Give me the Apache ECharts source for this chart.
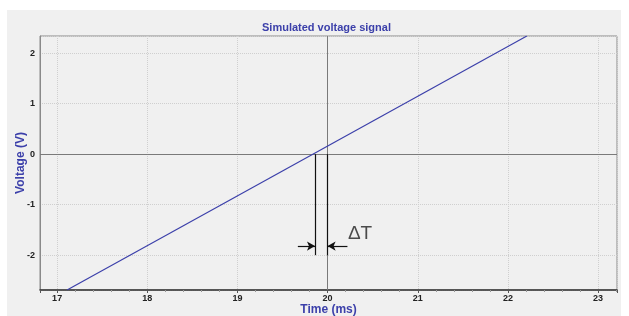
<!DOCTYPE html>
<html>
<head>
    <meta charset="utf-8">
    <title>Simulated voltage signal</title>
    <script src="https://cdn.jsdelivr.net/npm/echarts@6/dist/echarts.min.js"></script>
    <style>
        body { margin: 0; background: #fff; }
        #panel { position: absolute; left: 7px; top: 10px; width: 614px; height: 306px; background: #f0f0f0; }
        #main { position: absolute; left: 0; top: 0; width: 629px; height: 316px; }
    </style>
</head>
<body>
    <div id="panel"></div>
    <div id="main"></div>
    <script type="text/javascript">
        // signal: straight ramp across the window (ms, V)
        var signalTime = [17.11, 22.21];
        var signalVolt = [-2.69, 2.34];

        // delta T markers
        var crossTime = 19.86;
        var refTime = 20;
        var markerBottom = -2.0;
        var arrowLevel = -1.82;
        var arrowLeftStart = 19.67;
        var arrowRightStart = 20.22;
        var deltaLabelPos = [20.22, -1.58];

        var xMin = 16.81, xMax = 23.21;
        var yMin = -2.69, yMax = 2.34;

        var blue = '#3c40aa';
        var labelFont = { color: '#222', fontSize: 9, fontWeight: 'bold', fontFamily: 'Liberation Sans' };

        var signal = [];
        for (var i = 0; i < signalTime.length; i++) {
            signal.push([signalTime[i], signalVolt[i]]);
        }

        function intLabel(v) {
            return Math.abs(v - Math.round(v)) < 1e-6 ? String(Math.round(v)) : '';
        }

        var chart = echarts.init(document.getElementById('main'));
        var option = {
            animation: false,
            backgroundColor: 'transparent',
            title: {
                text: 'Simulated voltage signal',
                left: 257,
                top: 17,
                textStyle: { color: blue, fontSize: 11, fontWeight: 'bold', fontFamily: 'Liberation Sans' }
            },
            grid: {
                left: 40, right: 12, top: 36, bottom: 26,
                outerBoundsMode: 'none',
                containLabel: false,
                show: true, borderColor: '#8a8a8a', borderWidth: 1
            },
            xAxis: {
                type: 'value',
                min: xMin, max: xMax,
                splitNumber: 6,
                name: 'Time (ms)',
                nameLocation: 'middle',
                nameGap: 14,
                nameMoveOverlap: false,
                nameTextStyle: { color: blue, fontSize: 12, fontWeight: 'bold', fontFamily: 'Liberation Sans' },
                axisLine: { onZero: false, lineStyle: { color: '#333', width: 1.5 } },
                axisTick: { show: true, length: 3, lineStyle: { color: '#555' } },
                minorTick: { show: true, splitNumber: 5, length: 2, lineStyle: { color: '#999' } },
                axisLabel: Object.assign({ margin: 4, showMinLabel: false, showMaxLabel: false, formatter: intLabel }, labelFont),
                splitLine: { show: true, lineStyle: { color: '#cfcfcf', type: 'dotted' } }
            },
            yAxis: {
                type: 'value',
                min: yMin, max: yMax,
                splitNumber: 5,
                name: 'Voltage (V)',
                nameLocation: 'middle',
                nameGap: 13,
                nameMoveOverlap: false,
                nameTextStyle: { color: blue, fontSize: 12, fontWeight: 'bold', fontFamily: 'Liberation Sans' },
                axisLine: { show: true, onZero: false, lineStyle: { color: '#8a8a8a' } },
                axisTick: { show: false },
                axisLabel: Object.assign({ margin: 5, showMinLabel: false, showMaxLabel: false, formatter: intLabel }, labelFont),
                splitLine: { show: true, lineStyle: { color: '#cfcfcf', type: 'dotted' } }
            },
            series: [
                {
                    name: 'signal',
                    type: 'line',
                    data: signal,
                    showSymbol: false,
                    lineStyle: { color: blue, width: 1.2 },
                    z: 5,
                    markLine: {
                        silent: true,
                        symbol: ['none', 'none'],
                        label: { show: false },
                        lineStyle: { color: '#7a7a7a', type: 'solid', width: 1 },
                        data: [{ yAxis: 0 }, { xAxis: refTime }]
                    }
                },
                {
                    name: 'markers',
                    type: 'line',
                    data: [],
                    markLine: {
                        silent: true,
                        symbol: ['none', 'none'],
                        label: { show: false },
                        lineStyle: { color: '#111', type: 'solid', width: 1.2 },
                        data: [
                            [{ coord: [crossTime, 0] }, { coord: [crossTime, markerBottom] }],
                            [{ coord: [refTime, 0] }, { coord: [refTime, markerBottom] }]
                        ]
                    }
                },
                {
                    name: 'arrows',
                    type: 'line',
                    data: [],
                    markLine: {
                        silent: true,
                        symbol: ['none', 'arrow'],
                        symbolSize: [7, 8],
                        label: { show: false },
                        lineStyle: { color: '#111', type: 'solid', width: 1.2 },
                        data: [
                            [{ coord: [arrowLeftStart, arrowLevel] }, { coord: [crossTime, arrowLevel] }],
                            [{ coord: [arrowRightStart, arrowLevel] }, { coord: [refTime, arrowLevel] }]
                        ]
                    }
                },
                {
                    name: 'deltaT',
                    type: 'scatter',
                    data: [deltaLabelPos],
                    symbolSize: 1,
                    itemStyle: { color: 'transparent' },
                    label: {
                        show: true,
                        position: 'right',
                        distance: 0,
                        formatter: 'ΔT',
                        color: '#222',
                        fontSize: 19,
                        fontFamily: 'Liberation Sans'
                    }
                }
            ]
        };
        chart.setOption(option);
    </script>
</body>
</html>
